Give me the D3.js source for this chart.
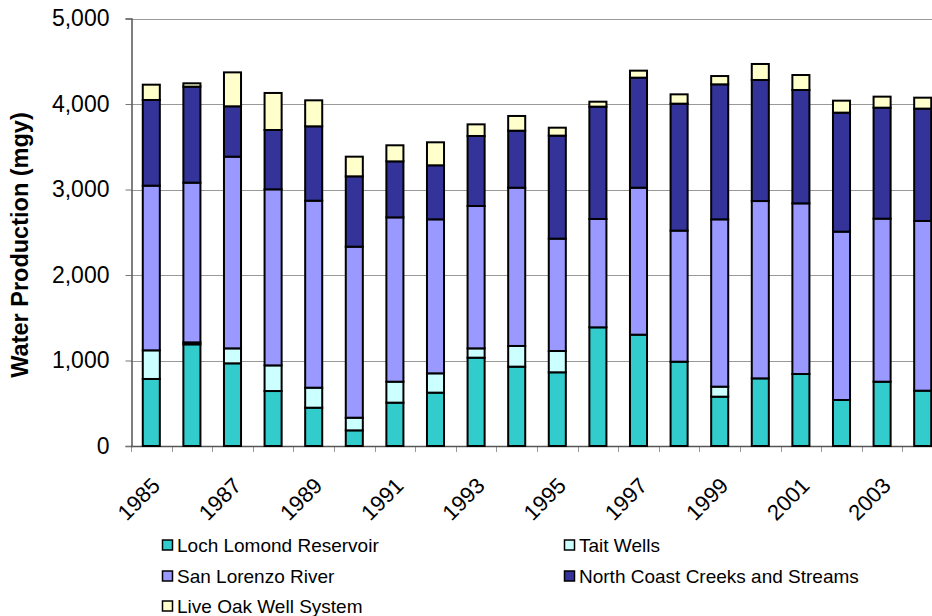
<!DOCTYPE html>
<html><head><meta charset="utf-8">
<script src="https://cdn.jsdelivr.net/npm/d3@7"></script>
<style>body{margin:0;background:#fff;overflow:hidden}svg{display:block}</style>
</head><body>
<svg id="c" width="932" height="616"></svg>
<script>
const years = ["1985","1986","1987","1988","1989","1990","1991","1992","1993","1994","1995","1996","1997","1998","1999","2000","2001","2002","2003","2004"];
const lochLomond = [784,1189,967,643,448,183,507,624,1033,928,862,1388,1302,986,577,791,842,538,752,647];
const taitWells = [335,23,175,300,234,148,245,226,109,242,249,0,0,0,117,0,0,0,0,0];
const sanLorenzo = [1926,1868,2242,2059,2187,2000,1922,1801,1665,1851,1314,1267,1719,1533,1957,2074,1996,1969,1907,1985];
const northCoast = [1002,1123,589,694,870,823,655,632,819,667,1205,1314,1287,1485,1579,1416,1326,1392,1298,1314];
const liveOak = [179,39,397,433,304,230,188,269,136,172,93,58,82,109,97,187,175,140,129,128];
const seriesNames = ["Loch Lomond Reservoir","Tait Wells","San Lorenzo River","North Coast Creeks and Streams","Live Oak Well System"];
const seriesColors = ["#33CCCC","#CCFFFF","#9999FF","#333399","#FFFFCC"];
const yTicks = [0,1000,2000,3000,4000,5000];
const xLabelYears = ["1985","1987","1989","1991","1993","1995","1997","1999","2001","2003"];

const keys = ["loch","tait","slr","ncc","lo"];
const rows = years.map((yr,i)=>({year:yr, loch:lochLomond[i], tait:taitWells[i], slr:sanLorenzo[i], ncc:northCoast[i], lo:liveOak[i]}));
const stacked = d3.stack().keys(keys)(rows);

const svg = d3.select("#c");
const pLeft = 131, pTop = 18.5, pBottom = 446, pRight = 943;
const x = d3.scaleBand().domain(years).range([pLeft, pRight]).paddingInner(0.58).paddingOuter(0.29);
const y = d3.scaleLinear().domain([0,5000]).range([pBottom, pTop]);
const fontFam = "Liberation Sans, Arial, sans-serif";

// gridlines
svg.append("g").selectAll("line").data(yTicks.filter(d=>d>0)).join("line")
  .attr("x1", pLeft).attr("x2", pRight).attr("y1", d=>Math.round(y(d))+0.5).attr("y2", d=>Math.round(y(d))+0.5)
  .attr("stroke", "#999").attr("stroke-width", 1);

// y axis
const yAxis = svg.append("g").attr("transform", `translate(${pLeft+0.5},0)`)
  .call(d3.axisLeft(y).tickValues(yTicks).tickFormat(d3.format(",")).tickSize(6).tickPadding(16));
yAxis.select(".domain").attr("stroke", "#555").attr("stroke-width", 1.5);
yAxis.selectAll(".tick line").attr("stroke", "#777");
yAxis.selectAll("text").attr("font-family", fontFam).attr("font-size", 23).attr("fill", "#000");

// x axis (category boundary ticks)
const step = x.step();
const boundaries = d3.range(years.length+1).map(i => pLeft + i*step);
svg.append("g").selectAll("line").data(boundaries).join("line")
  .attr("x1", d=>Math.round(d)+0.5).attr("x2", d=>Math.round(d)+0.5)
  .attr("y1", pBottom).attr("y2", pBottom+6).attr("stroke", "#999");
svg.append("line").attr("x1", pLeft).attr("x2", pRight).attr("y1", pBottom+0.5).attr("y2", pBottom+0.5)
  .attr("stroke", "#555").attr("stroke-width", 1.5);

// bars
svg.append("g").selectAll("g").data(stacked).join("g")
  .attr("fill", (d,i)=>seriesColors[i])
  .selectAll("rect").data(d=>d).join("rect")
  .attr("x", d=>x(d.data.year))
  .attr("width", x.bandwidth())
  .attr("y", d=>y(d[1]))
  .attr("height", d=>Math.max(0, y(d[0])-y(d[1])))
  .attr("stroke", "#000").attr("stroke-width", 2);

// x labels
svg.append("g").selectAll("text").data(xLabelYears).join("text")
  .attr("transform", d=>`translate(${x(d)+x.bandwidth()/2-1},${pBottom+30}) rotate(-45)`)
  .attr("text-anchor", "end").attr("font-family", fontFam).attr("font-size", 22)
  .attr("dy", "0.71em")
  .text(d=>d);

// y title
svg.append("text").attr("transform", "translate(28,245) rotate(-90)")
  .attr("text-anchor", "middle").attr("font-family", fontFam).attr("font-size", 23.5)
  .attr("font-weight", "bold").text("Water Production (mgy)");

// legend
const legendPos = [[162,545],[564,545],[162,576],[564,576],[162,606]];
const lg = svg.append("g").selectAll("g").data(seriesNames).join("g")
  .attr("transform", (d,i)=>`translate(${legendPos[i][0]},${legendPos[i][1]})`);
lg.append("rect").attr("x", 0.5).attr("y", -5).attr("width", 10).attr("height", 10)
  .attr("fill", (d,i)=>seriesColors[i]).attr("stroke", "#000").attr("stroke-width", 1.5);
lg.append("text").attr("x", 15).attr("y", 0).attr("dy", "0.35em")
  .attr("font-family", fontFam).attr("font-size", 19).text(d=>d);
</script>
</body></html>
